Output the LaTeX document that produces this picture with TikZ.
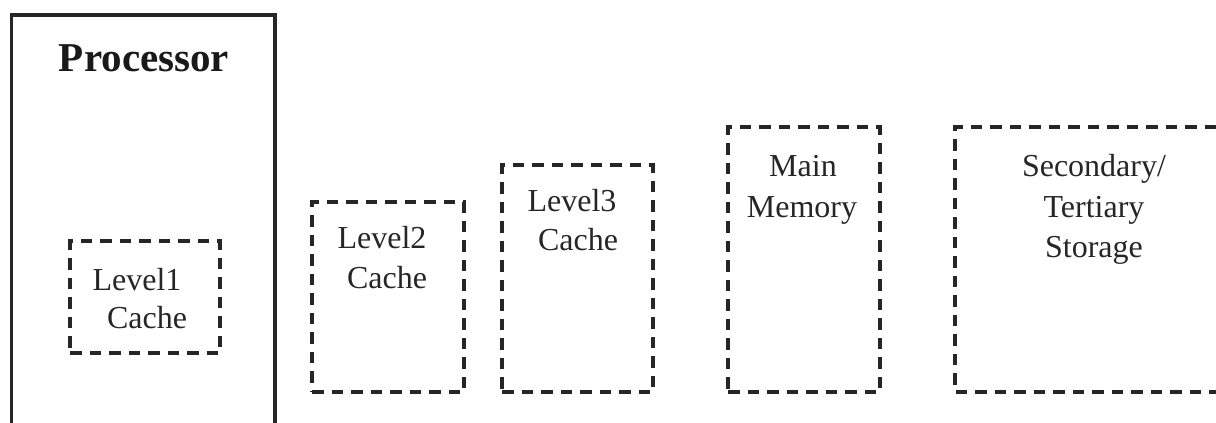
\documentclass[tikz,border=0pt]{standalone}
\usepackage{fontspec}
\setmainfont{Liberation Serif}
\begin{document}
\begin{tikzpicture}[x=1pt,y=-1pt,
  dbox/.style={draw=black!85, line width=3.2pt, dash pattern=on 11.5pt off 8pt},
  pbox/.style={draw=black!85, line width=3.6pt},
  lbl/.style={font=\fontsize{32}{40}\selectfont, text=black!85, inner sep=0pt, anchor=base},
  ttl/.style={font=\fontsize{41}{48}\selectfont\bfseries, text=black!90, inner sep=0pt, anchor=base}]
\useasboundingbox (0,0) rectangle (1216,423);
% processor (open at bottom)
\coordinate (pbl) at (11.3,423);
\coordinate (ptl) at (11.3,15);
\coordinate (ptr) at (274.7,15);
\coordinate (pbr) at (274.7,423);
\draw[pbox] (pbl) -- (ptl) -- (ptr) -- (pbr);
\node[ttl] (proc) at (144,71) {Processor};
% level 1
\node[dbox, minimum width=150pt, minimum height=112pt, inner sep=0pt] (L1) at (145,297) {};
\node[lbl] (l1a) at (137,290) {Level1};
\node[lbl] (l1b) at (147,328) {Cache};
% level 2
\node[dbox, minimum width=152pt, minimum height=190pt, inner sep=0pt] (L2) at (388,297) {};
\node[lbl] (l2a) at (382,248) {Level2};
\node[lbl] (l2b) at (387,288) {Cache};
% level 3
\node[dbox, minimum width=151pt, minimum height=227pt, inner sep=0pt] (L3) at (577.5,278.5) {};
\node[lbl] (l3a) at (572,211) {Level3};
\node[lbl] (l3b) at (578,250) {Cache};
% main memory
\node[dbox, minimum width=152pt, minimum height=265pt, inner sep=0pt] (MM) at (804,259.5) {};
\node[lbl] (mma) at (803,176) {Main};
\node[lbl] (mmb) at (802,217) {Memory};
% secondary (open at right)
\coordinate (str) at (1216,127);
\coordinate (stl) at (955,127);
\coordinate (sbl) at (955,392);
\coordinate (sbr) at (1216,392);
\draw[dbox] (str) -- (stl) -- (sbl) -- (sbr);
\node[lbl] (sa) at (1094,176) {Secondary/};
\node[lbl] (sb) at (1094,217) {Tertiary};
\node[lbl] (sc) at (1094,257) {Storage};
\end{tikzpicture}
\end{document}
